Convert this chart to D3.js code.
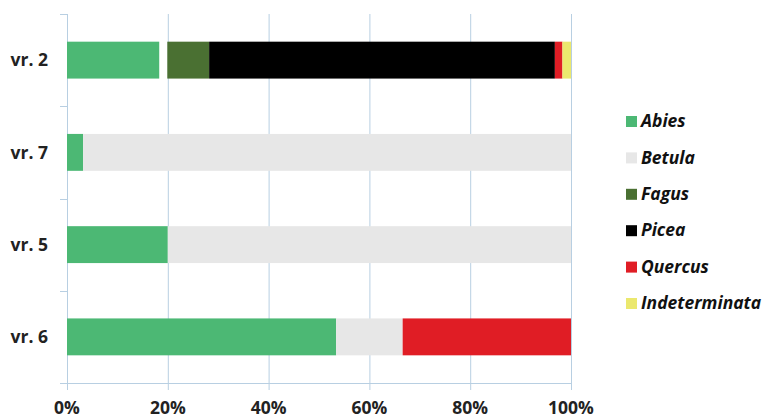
<!DOCTYPE html>
<html>
<head>
<meta charset="utf-8">
<script src="https://cdnjs.cloudflare.com/ajax/libs/d3/7.8.5/d3.min.js"></script>
<style>
  body { margin: 0; background: #fff; }
  svg { display: block; font-family: "Open Sans", "Liberation Sans", sans-serif; }
</style>
</head>
<body>
<svg width="767" height="419"></svg>
<script>
// chart data (percent of each sample)
const samples = ['vr. 2', 'vr. 7', 'vr. 5', 'vr. 6'];
const taxa = ['Abies', 'Betula', 'Fagus', 'Picea', 'Quercus', 'Indeterminata'];
const abies = [18.3, 3.2, 20.0, 53.4];
const blank = [1.6, 0, 0, 0];      // unfilled gap in vr. 2
const betula = [0, 96.8, 80.0, 13.2];
const fagus = [8.3, 0, 0, 0];
const picea = [68.6, 0, 0, 0];
const quercus = [1.5, 0, 0, 33.4];
const indeterminata = [1.7, 0, 0, 0];
const xTicks = [0, 20, 40, 60, 80, 100];

const colors = {
  Abies: '#4cb874',
  blank: 'none',
  Betula: '#e7e7e7',
  Fagus: '#4a7032',
  Picea: '#000000',
  Quercus: '#e01d25',
  Indeterminata: '#ebe86e'
};

const rows = samples.map((s, i) => ({
  sample: s,
  Abies: abies[i], blank: blank[i], Betula: betula[i], Fagus: fagus[i],
  Picea: picea[i], Quercus: quercus[i], Indeterminata: indeterminata[i]
}));
const keys = ['Abies', 'blank', 'Betula', 'Fagus', 'Picea', 'Quercus', 'Indeterminata'];

const glue = {left: 67, right: 196, top: 14, bottom: 36};
const svg = d3.select('svg');
const width = 767 - glue.left - glue.right;
const height = 419 - glue.top - glue.bottom;
const g = svg.append('g').attr('transform', `translate(${glue.left},${glue.top})`);

const x = d3.scaleLinear().domain([0, 100]).range([0, width]);
const y = d3.scaleBand().domain(samples).range([0, height]).paddingInner(0.6).paddingOuter(0.3);
const axisColor = '#b8cfe2';

// gridlines
g.selectAll('line.grid')
  .data(xTicks)
  .enter()
  .append('line')
  .attr('x1', d => x(d) + 0.5)
  .attr('x2', d => x(d) + 0.5)
  .attr('y1', 0)
  .attr('y2', height + 7)
  .attr('stroke', axisColor)
  .attr('stroke-width', 1);

// bars
const series = d3.stack().keys(keys)(rows);
g.selectAll('g.series')
  .data(series)
  .enter()
  .append('g')
  .attr('fill', d => colors[d.key])
  .selectAll('rect')
  .data(d => d)
  .enter()
  .append('rect')
  .attr('x', d => x(d[0]))
  .attr('y', d => y(d.data.sample))
  .attr('width', d => x(d[1]) - x(d[0]))
  .attr('height', y.bandwidth());

// x axis line
g.append('line')
  .attr('x1', -7).attr('x2', width + 0.5)
  .attr('y1', height + 0.5).attr('y2', height + 0.5)
  .attr('stroke', axisColor);

// y axis ticks at category boundaries
const bounds = d3.range(samples.length + 1).map(i => i * height / samples.length);
g.selectAll('line.ytick')
  .data(bounds)
  .enter()
  .append('line')
  .attr('x1', -7).attr('x2', 0)
  .attr('y1', d => Math.round(d) + 0.5)
  .attr('y2', d => Math.round(d) + 0.5)
  .attr('stroke', axisColor);

// x labels
g.selectAll('text.xlab')
  .data(xTicks)
  .enter()
  .append('text')
  .attr('x', d => x(d))
  .attr('y', height + 31)
  .attr('text-anchor', 'middle')
  .attr('font-size', 17.5)
  .attr('font-weight', 'bold')
  .attr('fill', '#222')
  .text(d => d + '%');

// y labels
g.selectAll('text.ylab')
  .data(samples)
  .enter()
  .append('text')
  .attr('x', -19)
  .attr('y', d => y(d) + y.bandwidth() / 2)
  .attr('dy', '0.35em')
  .attr('text-anchor', 'end')
  .attr('font-size', 17.5)
  .attr('font-weight', 'bold')
  .attr('fill', '#222')
  .text(d => d);

// legend
const legend = svg.append('g').attr('transform', 'translate(626,121)');
const item = legend.selectAll('g')
  .data(taxa)
  .enter()
  .append('g')
  .attr('transform', (d, i) => `translate(0,${i * 36.4})`);
item.append('rect')
  .attr('x', 0).attr('y', -5)
  .attr('width', 11).attr('height', 11)
  .attr('fill', d => colors[d]);
item.append('text')
  .attr('x', 15)
  .attr('y', 0)
  .attr('dy', '0.35em')
  .attr('font-size', 17.5)
  .attr('font-weight', 'bold')
  .attr('font-style', 'italic')
  .attr('fill', '#111')
  .text(d => d);
</script>
</body>
</html>
